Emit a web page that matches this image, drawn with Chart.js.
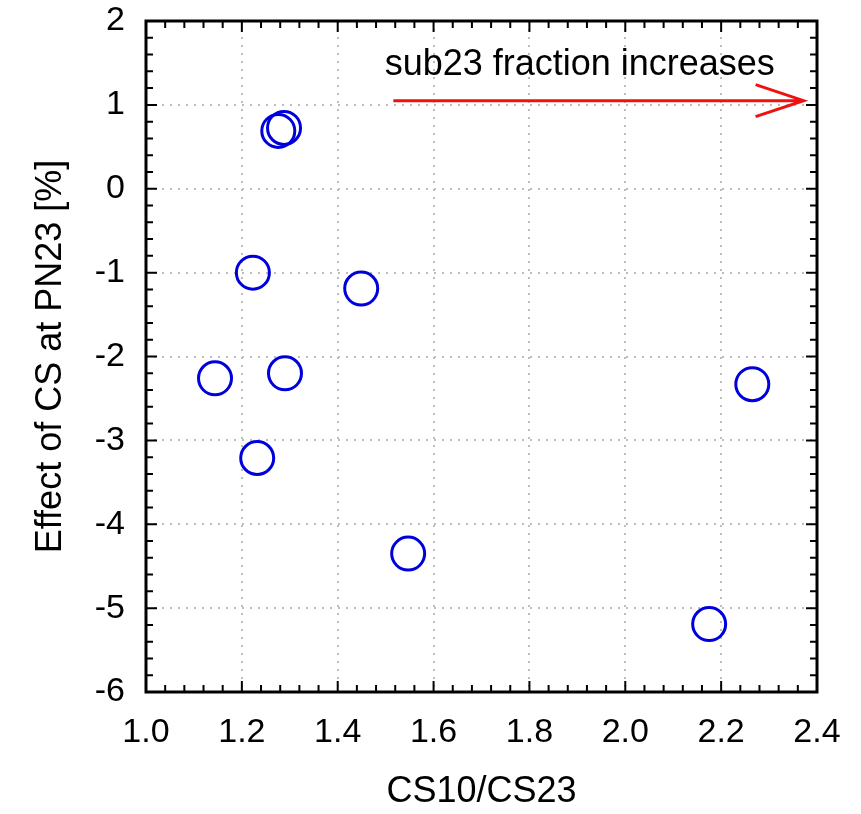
<!DOCTYPE html>
<html>
<head>
<meta charset="utf-8">
<script src="https://cdn.jsdelivr.net/npm/chart.js@4"></script>
<style>
  html, body { margin: 0; padding: 0; background: #fff; }
  #wrap { width: 861px; height: 814px; }
</style>
</head>
<body>
<div id="wrap"><canvas id="chart" width="861" height="814"></canvas></div>
<script>
// ratio CS10/CS23 vs effect of CS at PN23 (%)
const csRatio = [1.276, 1.288, 1.223, 1.449, 1.144, 1.290, 1.232, 1.547, 2.265, 2.175];
const csEffect = [0.69, 0.725, -1.00, -1.19, -2.26, -2.20, -3.21, -4.35, -2.33, -5.19];

const xTicks = [1.0, 1.2, 1.4, 1.6, 1.8, 2.0, 2.2, 2.4];
const yTicks = [2, 1, 0, -1, -2, -3, -4, -5, -6];

const noteText = 'sub23 fraction increases';
const noteAt = [1.905, 1.47];
const arrowFrom = [1.516, 1.05];
const arrowTo = [2.372, 1.05];

const points = csRatio.map((v, i) => ({ x: v, y: csEffect[i] }));
const fontName = '"Liberation Sans", Arial, sans-serif';
const gridColor = '#bdbdbd';

// box, inner ticks on all sides, red arrow with label
const framePlugin = {
    id: 'frame',
    afterDatasetsDraw(chart) {
        const { ctx, chartArea: a, scales: { x, y } } = chart;
        ctx.save();
        ctx.strokeStyle = '#000';
        ctx.lineWidth = 2;
        for (let i = 0; i <= 35; i++) {
            const px = x.getPixelForValue(1 + i * 0.04);
            const len = i % 5 === 0 ? 11 : 7;
            ctx.beginPath();
            ctx.moveTo(px, a.bottom); ctx.lineTo(px, a.bottom - len);
            ctx.moveTo(px, a.top); ctx.lineTo(px, a.top + len);
            ctx.stroke();
        }
        for (let i = 0; i <= 40; i++) {
            const py = y.getPixelForValue(-6 + i * 0.2);
            const len = i % 5 === 0 ? 11 : 7;
            ctx.beginPath();
            ctx.moveTo(a.left, py); ctx.lineTo(a.left + len, py);
            ctx.moveTo(a.right, py); ctx.lineTo(a.right - len, py);
            ctx.stroke();
        }
        ctx.lineWidth = 3;
        ctx.strokeRect(a.left, a.top, a.right - a.left, a.bottom - a.top);

        // arrow
        const x0 = x.getPixelForValue(arrowFrom[0]);
        const y0 = y.getPixelForValue(arrowFrom[1]);
        const x1 = x.getPixelForValue(arrowTo[0]);
        const y1 = y.getPixelForValue(arrowTo[1]);
        ctx.strokeStyle = '#ee1111';
        ctx.lineWidth = 3;
        ctx.beginPath();
        ctx.moveTo(x0, y0); ctx.lineTo(x1, y1);
        ctx.moveTo(x1 - 48, y1 - 16); ctx.lineTo(x1, y1); ctx.lineTo(x1 - 48, y1 + 16);
        ctx.stroke();

        ctx.fillStyle = '#000';
        ctx.font = '36px ' + fontName;
        ctx.textAlign = 'center';
        ctx.textBaseline = 'middle';
        ctx.fillText(noteText, x.getPixelForValue(noteAt[0]), y.getPixelForValue(noteAt[1]));
        ctx.restore();
    }
};

const ctx = document.getElementById('chart').getContext('2d');
new Chart(ctx, {
    type: 'scatter',
    data: {
        datasets: [{
            data: points,
            pointStyle: 'circle',
            pointRadius: 16.5,
            pointHoverRadius: 16.5,
            pointBorderWidth: 3,
            pointBorderColor: '#0000dd',
            pointBackgroundColor: 'rgba(0,0,0,0)'
        }]
    },
    options: {
        responsive: false,
        animation: false,
        layout: { padding: { left: 0, right: 44, top: 21, bottom: 0 } },
        plugins: { legend: { display: false }, tooltip: { enabled: false } },
        scales: {
            x: {
                type: 'linear',
                min: 1.0,
                max: 2.4,
                afterBuildTicks: s => { s.ticks = xTicks.map(v => ({ value: v })); },
                afterFit: s => { s.height = 122; s.paddingLeft = 0; s.paddingRight = 0; },
                border: { display: false, dash: [2, 6] },
                grid: {
                    drawTicks: false,
                    color: c => (c.tick && (c.tick.value === 1.0 || c.tick.value === 2.4)) ? 'rgba(0,0,0,0)' : gridColor,
                    lineWidth: 2
                },
                ticks: {
                    padding: 20,
                    color: '#000',
                    font: { family: fontName, size: 34 },
                    callback: v => Number(v).toFixed(1)
                },
                title: {
                    display: true,
                    text: 'CS10/CS23',
                    color: '#000',
                    font: { family: fontName, size: 36 },
                    padding: { top: 0, bottom: 0 }
                }
            },
            y: {
                type: 'linear',
                min: -6,
                max: 2,
                afterBuildTicks: s => { s.ticks = yTicks.map(v => ({ value: v })); },
                afterFit: s => { s.width = 146; s.paddingTop = 0; s.paddingBottom = 0; },
                border: { display: false, dash: [2, 6] },
                grid: {
                    drawTicks: false,
                    color: c => (c.tick && (c.tick.value === 2 || c.tick.value === -6)) ? 'rgba(0,0,0,0)' : gridColor,
                    lineWidth: 2
                },
                ticks: {
                    padding: 21,
                    color: '#000',
                    font: { family: fontName, size: 34 }
                },
                title: {
                    display: true,
                    text: 'Effect of CS at PN23 [%]',
                    color: '#000',
                    font: { family: fontName, size: 36 },
                    padding: { top: 29, bottom: 0 }
                }
            }
        }
    },
    plugins: [framePlugin]
});
</script>
</body>
</html>
